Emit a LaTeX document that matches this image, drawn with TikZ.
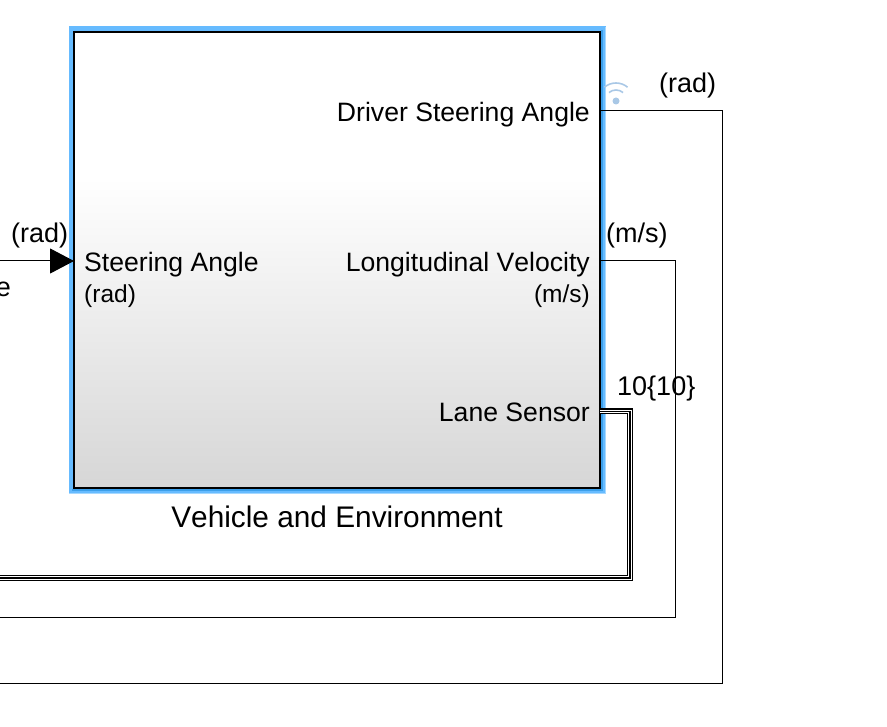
\documentclass[tikz,border=0pt]{standalone}
\usepackage{fontspec}
\setmainfont[Kerning=Off]{Liberation Sans}
\usetikzlibrary{arrows.meta}
\definecolor{halo}{HTML}{66BBFF}
\definecolor{halodeep}{HTML}{3C9FEA}
\definecolor{halopale}{HTML}{A6D8FF}
\definecolor{antenna}{HTML}{A9C8E6}
\pgfdeclareverticalshading{blockfade}{100bp}{color(0bp)=(black!16); color(25bp)=(black!16); color(59bp)=(white); color(100bp)=(white)}
\tikzset{
	sigtext/.style={inner sep=0pt, font=\fontsize{26.6}{30}\selectfont},
	unittext/.style={inner sep=0pt, font=\fontsize{24.5}{28}\selectfont},
	linetext/.style={inner sep=0pt, font=\fontsize{27}{30}\selectfont},
	wire/.style={draw=black, line width=1pt},
	buswire/.style={draw=black, line width=6pt, postaction={draw=white, line width=3.6pt}, postaction={draw=black, line width=1.3pt}}
}
\begin{document}
\begin{tikzpicture}[x=1pt, y=-1pt, >={Triangle[length=24pt, width=25pt]}]
	\useasboundingbox (0,0) rectangle (887,727);

	% vehicle block, the blue edge goes deeper on the right and at the bottom
	\node[draw=black, line width=2.6pt, shading=blockfade, minimum width=526pt, minimum height=456pt,
		preaction={draw=halo, line width=11pt}] (vehicle) at (337,260) {};
	\draw[halopale, line width=1.2pt] (605.4,27) -- (605.4,493.4) -- (69,493.4);
	\draw[halodeep, line width=2pt] (602,30) -- (602,490) -- (72,490);
	\node[font=\fontsize{29.8}{32}\selectfont, inner sep=0pt, anchor=base] (vehname) at (337,527) {Vehicle and Environment};

	% port labels
	\node[sigtext, anchor=base west] (steerin) at (84,272) {Steering Angle};
	\node[unittext, anchor=base west] (steerunit) at (84,303) {(rad)};
	\node[sigtext, anchor=base east] (drvport) at (590,122) {Driver Steering Angle};
	\node[sigtext, anchor=base east] (velport) at (590,272) {Longitudinal Velocity};
	\node[unittext, anchor=base east] (velunit) at (590,303) {(m/s)};
	\node[sigtext, anchor=base east] (laneport) at (590,422) {Lane Sensor};

	% line labels
	\node[linetext, anchor=base west] (radin) at (11,243) {(rad)};
	\node[linetext, anchor=base west] (radout) at (659,93) {(rad)};
	\node[linetext, anchor=base west] (velline) at (606,243) {(m/s)};
	\node[linetext, anchor=base west] (laneline) at (617,396) {10\{10\}};
	\node[linetext, anchor=base east] (cutname) at (11,297) {e};

	% end points of the lines
	\coordinate (steerfrom) at (0,261);
	\coordinate (steerto) at (74,261);
	\coordinate (drvout) at (600,110.5);
	\coordinate (drvturn) at (722,683.5);
	\coordinate (drvend) at (0,683.5);
	\coordinate (velout) at (600,261);
	\coordinate (velturn) at (675,617.5);
	\coordinate (velend) at (0,617.5);
	\coordinate (laneout) at (600,411.5);
	\coordinate (laneturn) at (630,578);
	\coordinate (laneend) at (0,578);

	\draw[wire, ->] (steerfrom) -- (steerto);
	\draw[wire] (drvout) -| (drvturn) -- (drvend);
	\draw[wire] (velout) -| (velturn) -- (velend);
	\draw[buswire] (laneout) -| (laneturn) -- (laneend);

	% antenna mark
	\fill[antenna] (616,101) circle (3.5pt);
	\draw[antenna, line width=1.6pt] (616,101) ++(-130:11) arc[start angle=-130, end angle=-50, radius=11];
	\draw[antenna, line width=1.6pt] (616,101) ++(-130:18) arc[start angle=-130, end angle=-50, radius=18];
\end{tikzpicture}
\end{document}
